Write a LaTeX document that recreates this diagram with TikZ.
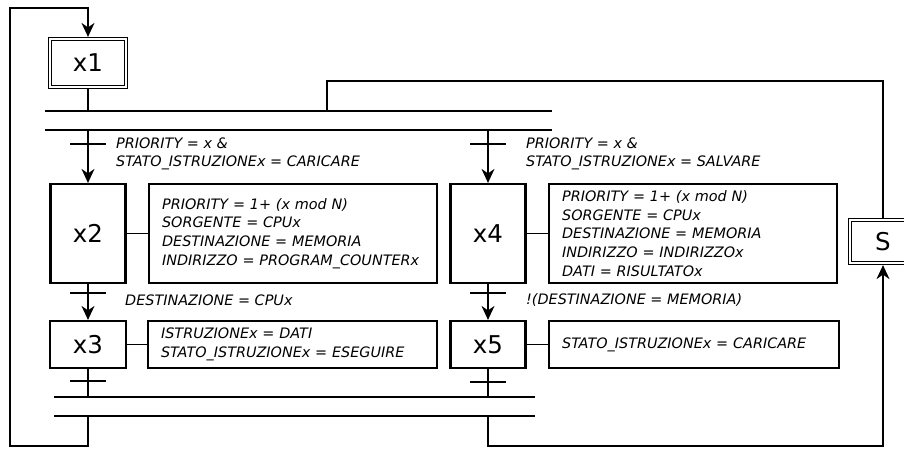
\documentclass[tikz,border=0pt]{standalone}
\usepackage{fontspec}
\setmainfont{DejaVu Sans}
\usetikzlibrary{arrows.meta}

\begin{document}
\begin{tikzpicture}[x=1pt,y=-1pt,
  stepbox/.style={draw, line width=2.2pt, inner sep=0pt, font=\fontsize{24.5}{24.5}\selectfont},
  initbox/.style={draw, double, double distance=1.8pt, line width=1.2pt, inner sep=0pt,
                  outer sep=2.1pt, font=\fontsize{24.5}{24.5}\selectfont},
  actbox/.style={draw, line width=2.2pt, anchor=west, align=left, inner xsep=13pt, inner ysep=0pt,
                 font=\fontsize{14.4}{18.6}\selectfont\itshape},
  cond/.style={anchor=west, align=left, inner sep=0pt, font=\fontsize{14.4}{18.5}\selectfont\itshape},
  wire/.style={line width=1.4pt},
  bar/.style={line width=1.6pt},
  tick/.style={line width=1.4pt},
  arr/.style={wire, -{Stealth[length=14pt,width=13pt,inset=4.5pt]}}
]
\useasboundingbox (0,0) rectangle (904,450);

% steps
\node[initbox, minimum width=76pt, minimum height=48pt] (x1) at (88,63) {x1};
\node[stepbox, minimum width=75pt, minimum height=99pt] (x2) at (88,233.5) {x2};
\node[stepbox, minimum width=76pt, minimum height=47pt] (x3) at (88,344.5) {x3};
\node[stepbox, minimum width=75pt, minimum height=99pt] (x4) at (488,233.5) {x4};
\node[stepbox, minimum width=75pt, minimum height=47pt] (x5) at (488,344.5) {x5};
\node[initbox, minimum width=66pt, minimum height=43pt] (S) at (883,241.5) {S};

% actions
\node[actbox, minimum height=99pt, text width=262pt] (a2) at (148,233.5)
  {PRIORITY = 1+ (x mod N)\\SORGENTE = CPUx\\DESTINAZIONE = MEMORIA\\INDIRIZZO = PROGRAM\_COUNTERx};
\node[actbox, minimum height=47pt, text width=263pt] (a3) at (147,344.5)
  {ISTRUZIONEx = DATI\\STATO\_ISTRUZIONEx = ESEGUIRE};
\node[actbox, minimum height=99pt, text width=262pt] (a4) at (548,233.5)
  {PRIORITY = 1+ (x mod N)\\SORGENTE = CPUx\\DESTINAZIONE = MEMORIA\\INDIRIZZO = INDIRIZZOx\\DATI = RISULTATOx};
\node[actbox, minimum height=47pt, text width=264pt] (a5) at (548,344.5)
  {STATO\_ISTRUZIONEx = CARICARE};

\foreach \s in {2,3,4,5} \draw[wire] (x\s.east) -- (a\s.west);

% transition conditions
\node[cond] (c1) at (116,154) {PRIORITY = x \&\\STATO\_ISTRUZIONEx = CARICARE};
\node[cond] (c2) at (526,154) {PRIORITY = x \&\\STATO\_ISTRUZIONEx = SALVARE};
\node[cond] (c3) at (125,300) {DESTINAZIONE = CPUx};
\node[cond] (c4) at (526,300) {!(DESTINAZIONE = MEMORIA)};

% divergence / convergence bars
\coordinate (b1L) at (45,111);  \coordinate (b1R) at (552,111);
\coordinate (b2L) at (45,130);  \coordinate (b2R) at (552,130);
\coordinate (b3L) at (54,397);  \coordinate (b3R) at (535,397);
\coordinate (b4L) at (54,416);  \coordinate (b4R) at (535,416);
\draw[bar] (b1L) -- (b1R);
\draw[bar] (b2L) -- (b2R);
\draw[bar] (b3L) -- (b3R);
\draw[bar] (b4L) -- (b4R);

% transition ticks
\coordinate (t1) at (88,144);
\coordinate (t2) at (488,144);
\coordinate (t3) at (88,293);
\coordinate (t4) at (488,293);
\coordinate (t5) at (88,381);
\coordinate (t6) at (488,382);
\foreach \t in {t1,t2,t3,t4,t5,t6}
  \draw[tick] ([xshift=-18pt]\t) -- ([xshift=18pt]\t);

% flow
\draw[wire] (x1.south) -- (x1.south |- b1L);
\draw[arr] (x2.north |- b2L) -- (x2.north);
\draw[arr] (x4.north |- b2L) -- (x4.north);
\draw[arr] (x2.south) -- (x3.north);
\draw[arr] (x4.south) -- (x5.north);
\draw[wire] (x3.south) -- (x3.south |- b3L);
\draw[wire] (x5.south) -- (x5.south |- b3L);

% loop back to the initial step
\coordinate (lt) at (10,8);
\coordinate (lb) at (10,446);
\draw[arr] (x3.south |- b4L) -- (x3.south |- lb) -- (lb) -- (lt) -- (x1.north |- lt) -- (x1.north);

% branch to S and return into S
\coordinate (fork) at (327,81);
\coordinate (rb) at (883,446);
\draw[wire] (fork |- b1L) -- (fork) -| (S.north);
\draw[arr] (x5.south |- b4L) -- (x5.south |- rb) -- (rb) -- (S.south);
\end{tikzpicture}
\end{document}
